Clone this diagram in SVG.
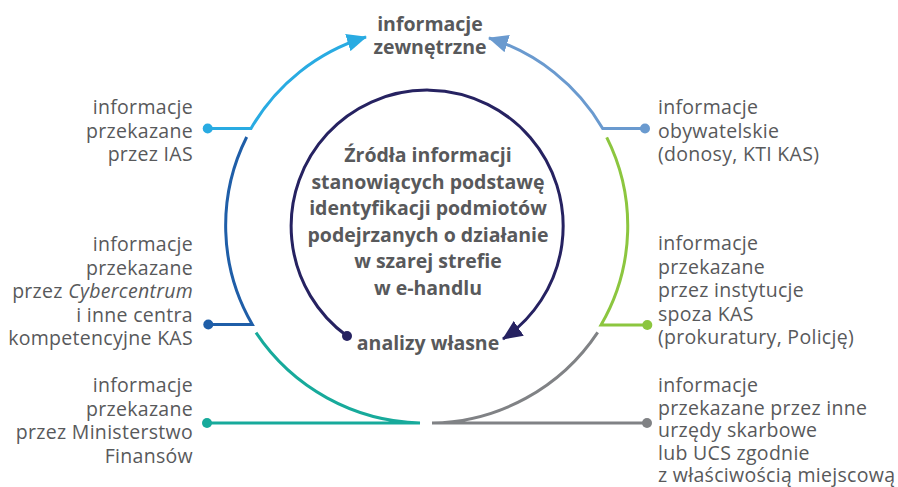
<svg xmlns="http://www.w3.org/2000/svg" width="898" height="487" viewBox="0 0 898 487">
<style>
.t{font-family:"Open Sans","Noto Sans","Liberation Sans",sans-serif;font-size:19.5px;letter-spacing:0.3px;fill:#58595b}
.b{font-family:"Open Sans","Noto Sans","Liberation Sans",sans-serif;font-size:19.5px;font-weight:bold;fill:#58595b}
.l{fill:none;stroke-width:3}
</style>
<defs>
<marker id="aCyan" viewBox="0 0 20 18" refX="19" refY="9" markerWidth="20" markerHeight="18" markerUnits="userSpaceOnUse" orient="auto"><path d="M0,0 L20,9 L0,18 z" fill="#29abe2"/></marker>
<marker id="aLb" viewBox="0 0 20 18" refX="19" refY="9" markerWidth="20" markerHeight="18" markerUnits="userSpaceOnUse" orient="auto"><path d="M0,0 L20,9 L0,18 z" fill="#6a9acf"/></marker>
<marker id="aNavy" viewBox="0 0 20 18" refX="19" refY="9" markerWidth="20" markerHeight="18" markerUnits="userSpaceOnUse" orient="auto"><path d="M0,0 L20,9 L0,18 z" fill="#262261"/></marker>
</defs>
<g id="connectors">
<path class="l" stroke="#29abe2" d="M207.7,128.5 H251 A200,200 0 0,1 366,37" marker-end="url(#aCyan)"/>
<circle cx="207.7" cy="128.5" r="5" fill="#29abe2"/>
<path class="l" stroke="#6a9acf" d="M645,128.5 H602.7 A200,200 0 0,0 489,38" marker-end="url(#aLb)"/>
<circle cx="645" cy="128.5" r="5" fill="#6a9acf"/>
<path class="l" stroke="#1f5ea8" d="M246.7,137 A197,197 0 0,0 252.3,324.5 H208.3"/>
<circle cx="208.3" cy="324.5" r="5" fill="#1f5ea8"/>
<path class="l" stroke="#17aa9b" d="M256,332.7 A203,203 0 0,0 420,423 H207"/>
<circle cx="207" cy="423" r="5" fill="#17aa9b"/>
<path class="l" stroke="#808285" d="M597.7,332.3 A203,203 0 0,1 432,423 H647"/>
<circle cx="647" cy="423" r="5" fill="#808285"/>
<path class="l" stroke="#8cc63f" d="M606.7,137.3 A197,197 0 0,1 601,325 H647.3"/>
<circle cx="647.3" cy="325" r="5" fill="#8cc63f"/>
<path class="l" stroke="#262261" d="M347,336 A136,136 0 1,1 503,339" marker-end="url(#aNavy)"/>
<circle cx="347" cy="336" r="5" fill="#262261"/>
</g>
<g id="n-center">
<text class="b" text-anchor="middle"><tspan x="428" y="162">Źródła informacji</tspan><tspan x="428" y="188.5">stanowiących podstawę</tspan><tspan x="428" y="215">identyfikacji podmiotów</tspan><tspan x="428" y="241.5">podejrzanych o działanie</tspan><tspan x="428" y="268">w szarej strefie</tspan><tspan x="428" y="294.5">w e-handlu</tspan></text>
</g>
<g id="n-zewnetrzne">
<text class="b" text-anchor="middle"><tspan x="430" y="31">informacje</tspan><tspan x="430" y="54">zewnętrzne</tspan></text>
</g>
<g id="n-analizy">
<text class="b" text-anchor="middle" x="428" y="350">analizy własne</text>
</g>
<g id="n-ias">
<text class="t" text-anchor="end"><tspan x="193" y="114">informacje</tspan><tspan x="193" y="137.5">przekazane</tspan><tspan x="193" y="161">przez IAS</tspan></text>
</g>
<g id="n-cyber">
<text class="t" text-anchor="end"><tspan x="193" y="251">informacje</tspan><tspan x="193" y="274.5">przekazane</tspan><tspan x="193" y="298">przez <tspan font-style="italic">Cybercentrum</tspan></tspan><tspan x="193" y="321.5">i inne centra</tspan><tspan x="193" y="345">kompetencyjne KAS</tspan></text>
</g>
<g id="n-mf">
<text class="t" text-anchor="end"><tspan x="193" y="392">informacje</tspan><tspan x="193" y="415.5">przekazane</tspan><tspan x="193" y="439">przez Ministerstwo</tspan><tspan x="193" y="462.5">Finansów</tspan></text>
</g>
<g id="n-obyw">
<text class="t"><tspan x="658" y="114">informacje</tspan><tspan x="658" y="137.5">obywatelskie</tspan><tspan x="658" y="161">(donosy, KTI KAS)</tspan></text>
</g>
<g id="n-inst">
<text class="t"><tspan x="658" y="250">informacje</tspan><tspan x="658" y="273.5">przekazane</tspan><tspan x="658" y="297">przez instytucje</tspan><tspan x="658" y="320.5">spoza KAS</tspan><tspan x="658" y="344">(prokuratury, Policję)</tspan></text>
</g>
<g id="n-us">
<text class="t"><tspan x="658" y="392">informacje</tspan><tspan x="658" y="414.5">przekazane przez inne</tspan><tspan x="658" y="437">urzędy skarbowe</tspan><tspan x="658" y="459.5">lub UCS zgodnie</tspan><tspan x="658" y="482">z właściwością miejscową</tspan></text>
</g>
</svg>
